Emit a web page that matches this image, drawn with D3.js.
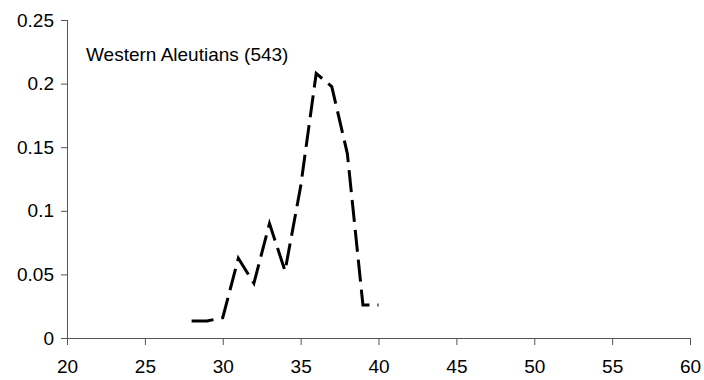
<!DOCTYPE html>
<html>
<head>
<meta charset="utf-8">
<script src="https://cdn.jsdelivr.net/npm/d3@7"></script>
<style>
  html, body { margin: 0; padding: 0; background: #fff; }
  svg { display: block; }
  text { font-family: "Liberation Sans", Arial, sans-serif; fill: #000; }
</style>
</head>
<body>
<svg id="chart" width="704" height="380"></svg>
<script>
// Length classes (x) and the proportion of fish in each class (y)
const lengths = [28, 29, 30, 31, 32, 33, 34, 35, 36, 37, 38, 39, 40];
const proportions = [0.0134, 0.0134, 0.016, 0.0627, 0.043, 0.090, 0.0527, 0.119, 0.208, 0.1976, 0.145, 0.026, 0.026];
const xTicks = [20, 25, 30, 35, 40, 45, 50, 55, 60];
const yTicks = [0, 0.05, 0.1, 0.15, 0.2, 0.25];
const seriesLabel = "Western Aleutians (543)";

const svg = d3.select("#chart");

const x = d3.scaleLinear().domain([20, 60]).range([67, 690]);
const y = d3.scaleLinear().domain([0, 0.25]).range([338, 20]);

const axisColor = "#555";
const fontSize = "19px";

// X axis
const xAxis = svg.append("g")
  .attr("transform", `translate(0,${y(0)})`)
  .call(d3.axisBottom(x).tickValues(xTicks).tickSize(7).tickPadding(15)
    .tickFormat(d3.format("d")));
xAxis.selectAll(".tick line").attr("stroke", axisColor);
xAxis.selectAll(".tick text").style("font-size", fontSize).attr("fill", "#000")
  .attr("font-family", "Liberation Sans, Arial, sans-serif");

// Y axis
const yAxis = svg.append("g")
  .attr("transform", `translate(${x(20)},0)`)
  .call(d3.axisLeft(y).tickValues(yTicks).tickSize(6).tickPadding(7)
    .tickFormat(d => d3.format("~g")(d)));
yAxis.selectAll(".tick line").attr("stroke", axisColor);
yAxis.selectAll(".tick text").style("font-size", fontSize).attr("fill", "#000")
  .attr("font-family", "Liberation Sans, Arial, sans-serif");

// Plain axis lines without the outer end caps
xAxis.select(".domain").attr("d", `M${x(20)},0.5H${x(60)}`)
  .attr("stroke", axisColor).attr("stroke-width", 1);
yAxis.select(".domain").attr("d", `M0.5,${y(0.25)}V${y(0)}`)
  .attr("stroke", axisColor).attr("stroke-width", 1);

// Dashed frequency line
const line = d3.line()
  .x((d, i) => x(lengths[i]))
  .y(d => y(d));

svg.append("path")
  .datum(proportions)
  .attr("d", line)
  .attr("fill", "none")
  .attr("stroke", "#000")
  .attr("stroke-width", 3)
  .attr("stroke-dasharray", "22,8")
  .attr("stroke-linecap", "butt")
  .attr("stroke-linejoin", "miter");

// Series label
svg.append("text")
  .attr("x", 86)
  .attr("y", 61)
  .style("font-size", fontSize)
  .text(seriesLabel);
</script>
</body>
</html>
